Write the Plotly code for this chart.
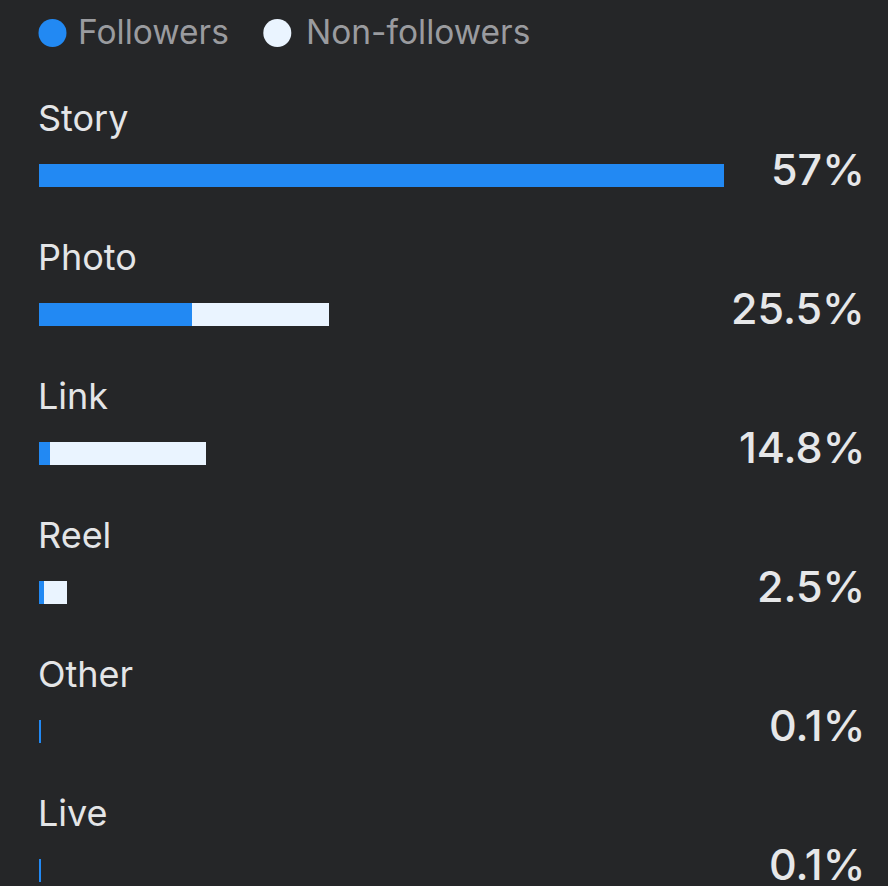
import plotly.graph_objects as go

categories = ["Story", "Photo", "Link", "Reel", "Other", "Live"]
followers = [57.0, 12.70, 0.92, 0.42, 0.17, 0.17]
non_followers = [0.0, 11.43, 12.95, 1.91, 0.0, 0.0]
pct_labels = ["57%", "25.5%", "14.8%", "2.5%", "0.1%", "0.1%"]
series_names = ["Followers", "Non-followers"]

BG = "#252628"
BLUE = "#2289F3"
LIGHT = "#EAF4FF"
FONT = "Inter"

W, H = 888, 886
ML, MR = 39, 27
PX_PER_UNIT = 685 / 57.0
xmax = (W - ML - MR) / PX_PER_UNIT
PW = W - ML - MR

# vertical: category i centre at 175.5 + 139*i px
step = 139.0
r_top = -175.5 / step
r_bot = r_top + H / step

fig = go.Figure()
fig.add_trace(go.Bar(y=categories, x=followers, orientation="h", name=series_names[0],
                     marker=dict(color=BLUE, line=dict(width=0)), width=23 / step,
                     showlegend=False, hoverinfo="skip"))
fig.add_trace(go.Bar(y=categories, x=non_followers, orientation="h", name=series_names[1],
                     marker=dict(color=LIGHT, line=dict(width=0)), width=23 / step,
                     showlegend=False, hoverinfo="skip"))

annotations = []
for cat, lab in zip(categories, pct_labels):
    annotations.append(dict(x=0, y=cat, xref="paper", yref="y", text=cat,
                            xanchor="left", yanchor="middle", yshift=58, xshift=-3, showarrow=False,
                            font=dict(family=FONT, size=36, color="#E4E5E7")))
    annotations.append(dict(x=1, y=cat, xref="paper", yref="y", text=lab,
                            xanchor="right", yanchor="middle", yshift=7, xshift=6, showarrow=False,
                            font=dict(family=FONT, size=43, color="#E6E7E9", weight=500)))

# legend (drawn manually)
shapes = []
R = 14
legend_items = [(52.5, BLUE, 79.3, series_names[0]), (277.3, LIGHT, 306.7, series_names[1])]
for cx, col, tx, name in legend_items:
    shapes.append(dict(type="circle", xref="paper", yref="paper",
                       x0=(cx - R - ML) / PW, x1=(cx + R - ML) / PW,
                       y0=1 - (33 + R) / H, y1=1 - (33 - R) / H,
                       fillcolor=col, line=dict(width=0)))
    annotations.append(dict(x=(tx - ML) / PW, y=1 - 32 / H, xref="paper", yref="paper",
                            text=name, xanchor="left", yanchor="middle", xshift=-3, showarrow=False,
                            font=dict(family=FONT, size=33.5, color="#9A9B9F")))

fig.update_layout(
    width=W, height=H,
    margin=dict(l=ML, r=MR, t=0, b=0),
    paper_bgcolor=BG, plot_bgcolor=BG,
    barmode="stack", bargap=0,
    xaxis=dict(range=[0, xmax], visible=False, fixedrange=True),
    yaxis=dict(range=[r_bot, r_top], visible=False, fixedrange=True,
               categoryorder="array", categoryarray=categories),
    annotations=annotations, shapes=shapes,
    showlegend=False,
)
fig.write_html("out.html", config={"displayModeBar": False},
               post_script="document.body.style.margin='0';document.body.style.overflow='hidden';"
                           "document.body.style.background='%s';" % BG)
